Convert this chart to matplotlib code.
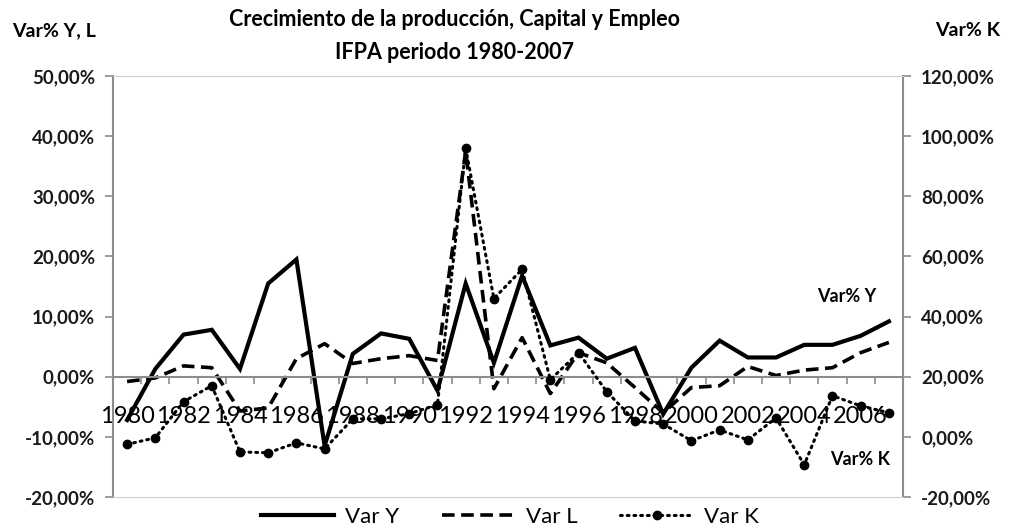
import numpy as np
import matplotlib
matplotlib.use("Agg")
import matplotlib.pyplot as plt
from matplotlib.ticker import FuncFormatter

plt.rcParams['font.family'] = ['Lato', 'DejaVu Sans']

years = list(range(1980, 2008))
var_y = [-7.2, 1.3, 7.0, 7.8, 1.3, 15.5, 19.5, -11.5, 3.8, 7.2, 6.3, -2.3, 15.5, 2.3,
         16.8, 5.2, 6.5, 3.0, 4.8, -6.2, 1.5, 6.0, 3.2, 3.2, 5.3, 5.3, 6.8, 9.2]
var_l = [-0.8, -0.2, 1.8, 1.5, -5.7, -5.2, 3.0, 5.5, 2.2, 3.0, 3.5, 2.7, 37.5, -2.0,
         6.5, -2.8, 4.0, 2.3, -1.8, -6.0, -1.8, -1.5, 1.7, 0.2, 1.1, 1.5, 4.0, 5.7]
var_k = [-2.5, -0.3, 11.7, 17.0, -5.0, -5.3, -2.0, -4.0, 6.0, 6.0, 7.7, 10.7, 96.0, 46.0,
         55.7, 19.0, 28.0, 15.0, 5.3, 4.3, -1.3, 2.3, -1.0, 6.3, -9.3, 13.7, 10.3, 8.0]

title = "Crecimiento de la producción, Capital y Empleo\nIFPA periodo 1980-2007"

x = np.arange(len(years))
axis_gray = "#8c8c8c"
frame_gray = "#d0d0d0"


def pct(v, pos):
    return f"{v:.2f}%".replace(".", ",")


fig = plt.figure(figsize=(10.1, 5.31), dpi=100)
ax = fig.add_axes([113 / 1010, 1 - 497 / 531, 790 / 1010, 421 / 531])
ax2 = ax.twinx()

ax.plot(x, var_y, color="black", lw=3.0, solid_joinstyle="miter", label="Var Y")
ax.plot(x, var_l, color="black", lw=2.6, linestyle=(0, (3.5, 1.8)), label="Var L")
ax2.plot(x, var_k, color="black", lw=2.2, linestyle=(0, (0.6, 1.6)),
         dash_capstyle="round", marker="o", markersize=6, label="Var K")

ax.set_xlim(-0.5, len(years) - 0.5)
ax.set_ylim(-20, 50)
ax.set_yticks(np.arange(-20, 51, 10))
ax2.set_ylim(-20, 120)
ax2.set_yticks(np.arange(-20, 121, 20))
ax.yaxis.set_major_formatter(FuncFormatter(pct))
ax2.yaxis.set_major_formatter(FuncFormatter(pct))

# eje x cruza en cero, marcas entre categorias
ax.spines['bottom'].set_position(('data', 0))
ax.set_xticks(np.arange(-0.5, len(years), 1))
ax.set_xticklabels([])
ax.set_xticks(x[::2], minor=True)
ax.set_xticklabels([str(y) for y in years[::2]], minor=True)
ax.tick_params(axis='x', which='major', direction='out', length=5, color=axis_gray, width=1.2)
ax.tick_params(axis='x', which='minor', length=0, pad=21, labelsize=17)

ax.tick_params(axis='y', direction='out', length=6, color=axis_gray, width=1.2,
               labelsize=13.5, pad=7)
ax2.tick_params(axis='y', direction='out', length=6, color=axis_gray, width=1.2,
                labelsize=13.5, pad=7)
for lab in ax.get_yticklabels() + ax2.get_yticklabels():
    lab.set_fontweight("bold")
    lab.set_color("#1a1a1a")

for s in ['top', 'right']:
    ax.spines[s].set_visible(False)
ax.spines['left'].set_color(axis_gray)
ax.spines['left'].set_linewidth(1.5)
ax.spines['bottom'].set_color(axis_gray)
ax.spines['bottom'].set_linewidth(1.5)
ax2.spines['left'].set_visible(False)
ax2.spines['right'].set_color(axis_gray)
ax2.spines['right'].set_linewidth(1.5)
ax2.spines['top'].set_color(frame_gray)
ax2.spines['bottom'].set_color(frame_gray)

fig.text(0.45, 1 - 36 / 531, title, ha="center", va="center", fontsize=15.5,
         fontweight="bold", linespacing=1.75)
fig.text(12 / 1010, 1 - 31 / 531, "Var% Y, L", ha="left", va="center",
         fontsize=14, fontweight="bold")
fig.text(1000 / 1010, 1 - 31 / 531, "Var% K", ha="right", va="center",
         fontsize=14, fontweight="bold")

ax.text(0.929, 0.477, "Var% Y", transform=ax.transAxes, ha="center", va="center",
        fontsize=13, fontweight="bold")
ax.text(0.9456, 0.088, "Var% K", transform=ax.transAxes, ha="center", va="center",
        fontsize=13, fontweight="bold")

h1, l1 = ax.get_legend_handles_labels()
h2, l2 = ax2.get_legend_handles_labels()
fig.legend(h1 + h2, l1 + l2, loc="center", bbox_to_anchor=(0.505, 1 - 517 / 531),
           ncol=3, frameon=False, fontsize=16, handlelength=3.3, columnspacing=1.9,
           handletextpad=0.5)

fig.savefig("out.png", dpi=100)
